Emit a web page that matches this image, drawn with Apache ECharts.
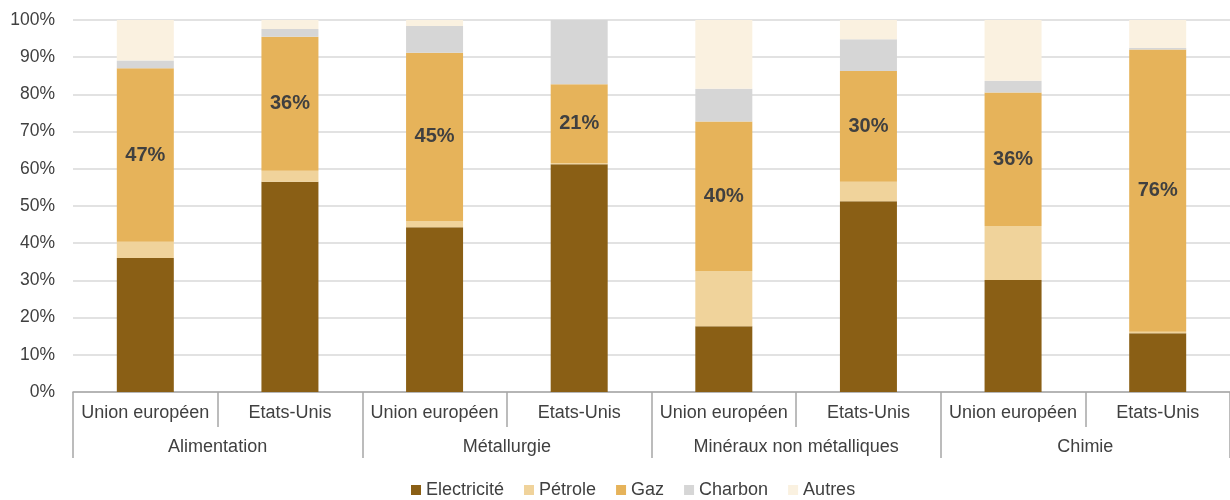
<!DOCTYPE html>
<html>
<head>
<meta charset="utf-8">
<script src="https://cdn.jsdelivr.net/npm/echarts@6/dist/echarts.min.js"></script>
<style>
  html, body { margin: 0; padding: 0; background: #fff; }
  #chart { width: 1230px; height: 500px; }
</style>
</head>
<body>
<div id="chart"></div>
<script>
// categories (two levels)
const countries = ['Union européen', 'Etats-Unis', 'Union européen', 'Etats-Unis',
  'Union européen', 'Etats-Unis', 'Union européen', 'Etats-Unis'];
const sectors = ['Alimentation', 'Métallurgie', 'Minéraux non métalliques', 'Chimie'];

// shares in % (bottom to top)
const electricite = [36.0, 56.5, 44.3, 61.2, 17.7, 51.3, 30.1, 15.8];
const petrole = [4.4, 3.0, 1.7, 0.3, 14.8, 5.2, 14.5, 0.4];
const gaz = [46.6, 36.0, 45.2, 21.2, 40.2, 29.8, 35.9, 75.9];
const charbon = [2.1, 2.1, 7.2, 17.3, 8.8, 8.5, 3.2, 0.4];
const autres = [10.9, 2.4, 1.6, 0.0, 18.5, 5.2, 16.3, 7.5];

const yTicks = [0, 10, 20, 30, 40, 50, 60, 70, 80, 90, 100];

const font = '"Liberation Sans", Arial, sans-serif';
const textColor = '#404040';
const lineColor = '#A6A6A6';

const chart = echarts.init(document.getElementById('chart'));

function bar(name, data, color, withLabel) {
  return {
    name: name,
    type: 'bar',
    stack: 'total',
    xAxisIndex: 0,
    barWidth: 57,
    data: data,
    itemStyle: { color: color },
    label: withLabel ? {
      show: true,
      position: 'inside',
      formatter: p => Math.round(p.value) + '%',
      color: textColor,
      fontFamily: font,
      fontWeight: 'bold',
      fontSize: 20,
    } : { show: false },
    emphasis: { disabled: true },
  };
}

chart.setOption({
  animation: false,
  textStyle: { fontFamily: font },
  grid: { left: 73, right: 0, top: 20, bottom: 108, containLabel: false },
  legend: {
    left: 411,
    top: 481,
    padding: 0,
    icon: 'rect',
    itemWidth: 10,
    itemHeight: 10,
    itemGap: 20,
    textStyle: { color: textColor, fontSize: 18, fontFamily: font },
    data: ['Electricité', 'Pétrole', 'Gaz', 'Charbon', 'Autres'],
  },
  xAxis: [
    {
      type: 'category',
      position: 'bottom',
      data: countries,
      axisLine: { show: true, lineStyle: { color: lineColor, width: 1.5 } },
      axisTick: { show: true, interval: 0, length: 35, lineStyle: { color: lineColor, width: 1.5 } },
      axisLabel: { interval: 0, margin: 12, color: textColor, fontSize: 18, fontFamily: font },
    },
    {
      type: 'category',
      position: 'bottom',
      data: sectors,
      axisLine: { show: false },
      axisTick: { show: true, interval: 0, length: 66, lineStyle: { color: lineColor, width: 1.5 } },
      axisLabel: { interval: 0, margin: 46, color: textColor, fontSize: 18, fontFamily: font },
    },
  ],
  yAxis: {
    type: 'value',
    min: yTicks[0],
    max: yTicks[yTicks.length - 1],
    interval: 10,
    axisLine: { show: false },
    axisTick: { show: false },
    axisLabel: { formatter: '{value}%', margin: 18, color: textColor, fontSize: 17.5, fontFamily: font },
    splitLine: { lineStyle: { color: '#D9D9D9', width: 1.5 } },
  },
  series: [
    bar('Electricité', electricite, '#8A5F15', false),
    bar('Pétrole', petrole, '#F0D39B', false),
    bar('Gaz', gaz, '#E6B35A', true),
    bar('Charbon', charbon, '#D6D6D6', false),
    bar('Autres', autres, '#FAF1E0', false),
  ],
});
</script>
</body>
</html>
